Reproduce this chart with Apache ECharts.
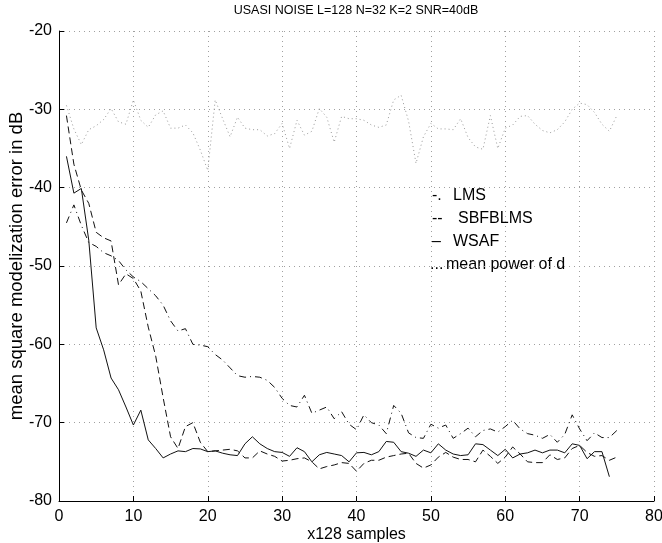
<!DOCTYPE html>
<html><head><meta charset="utf-8">
<script src="https://cdn.jsdelivr.net/npm/echarts@6/dist/echarts.min.js"></script>
<style>html,body{margin:0;padding:0;background:#fff}#c{width:662px;height:543px}</style>
</head><body><div id="c"></div>
<script>
const titleText = 'USASI NOISE L=128 N=32 K=2 SNR=40dB';
const xName = 'x128 samples';
const yName = 'mean square modelization error in dB';
const legendMarks = ['-.', '--', '–', '...'];
const legendNames = ['LMS', 'SBFBLMS', 'WSAF', 'mean power of d'];
const xTicks = [0, 80, 10];
const yTicks = [-80, -20, 10];

const lms = [-44.5,-42.2,-44.8,-47.0,-47.5,-48.3,-48.7,-49.3,-50.5,-51.4,-52.0,-52.9,-53.8,-55.0,-57.0,-58.3,-58.0,-60.0,-60.1,-60.3,-61.3,-62.0,-63.0,-64.0,-64.2,-64.1,-64.2,-64.6,-65.5,-66.9,-67.8,-68.0,-66.5,-68.8,-68.4,-68.0,-69.5,-68.6,-70.2,-70.9,-69.0,-70.0,-70.3,-71.4,-67.8,-68.8,-71.3,-71.9,-72.0,-70.2,-70.7,-70.3,-72.0,-71.4,-70.7,-71.8,-71.0,-70.8,-71.2,-70.5,-69.7,-70.8,-71.4,-71.6,-72.0,-71.5,-72.5,-71.5,-69.0,-70.8,-72.3,-71.3,-71.9,-71.9,-71.0];
const sbfblms = [-30.8,-37.0,-40.3,-42.0,-45.7,-46.4,-46.8,-52.4,-51.0,-51.6,-53.2,-57.8,-61.5,-66.8,-71.8,-73.3,-70.5,-70.0,-72.5,-73.7,-73.6,-73.5,-73.4,-73.6,-74.5,-74.5,-73.6,-74.0,-74.3,-74.9,-74.8,-74.6,-74.5,-75.0,-75.9,-75.6,-75.4,-75.1,-75.2,-76.2,-75.2,-74.8,-74.8,-74.4,-74.2,-74.0,-73.9,-75.2,-75.8,-75.4,-74.4,-73.8,-74.4,-74.7,-74.7,-75.0,-73.5,-74.3,-75.2,-74.4,-73.1,-74.0,-75.0,-75.1,-75.1,-74.1,-74.7,-74.5,-73.3,-72.9,-73.8,-74.3,-74.2,-74.8,-74.4];
const wsaf = [-36.0,-40.7,-40.1,-46.7,-57.9,-60.7,-64.3,-65.8,-68.0,-70.3,-68.4,-72.2,-73.3,-74.5,-74.0,-73.6,-73.7,-73.3,-73.35,-73.7,-73.6,-73.9,-74.1,-74.2,-72.7,-71.8,-72.7,-73.3,-73.7,-73.8,-74.3,-73.2,-73.7,-75.0,-74.1,-73.8,-74.0,-74.2,-75.0,-73.85,-73.8,-74.1,-73.7,-72.4,-72.5,-73.7,-73.9,-74.3,-73.5,-73.85,-72.7,-73.5,-74.0,-74.2,-74.1,-72.7,-72.8,-73.5,-74.2,-73.4,-74.5,-74.0,-73.85,-73.5,-73.85,-73.5,-73.5,-73.85,-72.7,-72.9,-74.6,-73.7,-73.7,-76.9];
const meanPower = [-29.5,-32.5,-34.5,-32.6,-32.1,-31.3,-29.9,-31.6,-31.9,-28.8,-31.4,-32.3,-30.7,-30.2,-32.4,-32.4,-32.0,-33.0,-35.2,-37.8,-28.8,-31.2,-33.5,-31.0,-32.4,-32.6,-32.6,-33.4,-33.1,-31.8,-35.0,-31.4,-33.3,-32.8,-29.9,-31.0,-34.2,-30.9,-31.2,-31.2,-31.4,-32.0,-32.3,-32.0,-28.8,-28.2,-31.5,-36.9,-33.5,-31.8,-32.5,-32.5,-32.6,-31.2,-33.6,-34.8,-35.1,-30.8,-35.0,-32.4,-32.0,-30.9,-30.8,-31.9,-32.7,-33.0,-32.6,-31.6,-30.0,-29.2,-29.4,-30.4,-31.9,-32.8,-30.8];

const toPts = arr => arr.map((v, i) => [i + 1, v]);
const FONT = 'Liberation Sans, Arial, Helvetica, sans-serif';

const chart = echarts.init(document.getElementById('c'), null, {renderer: 'canvas'});
const gridStyle = {show: true, lineStyle: {color: '#a0a0a0', width: 1, type: [1, 4]}};
const axisBase = {
  axisLine: {show: true, lineStyle: {color: '#000', width: 1}},
  axisTick: {show: true, inside: true, length: 5, lineStyle: {color: '#000'}},
  splitLine: gridStyle,
  nameMoveOverlap: false,
};
chart.setOption({
  animation: false,
  backgroundColor: '#fff',
  title: {text: titleText, left: 356, top: 4, padding: 0, textAlign: 'center',
    textStyle: {fontSize: 12.5, fontWeight: 'normal', color: '#000', fontFamily: FONT}},
  grid: {left: 59, right: 8, top: 31, bottom: 42, containLabel: false, outerBoundsMode: 'none'},
  xAxis: Object.assign({}, axisBase, {
    type: 'value', min: xTicks[0], max: xTicks[1], interval: xTicks[2],
    name: xName, nameLocation: 'middle', nameGap: 26,
    nameTextStyle: {color: '#000', fontFamily: FONT, fontSize: 16},
    axisLabel: {color: '#000', fontSize: 16, fontFamily: FONT, margin: 8}
  }),
  yAxis: Object.assign({}, axisBase, {
    type: 'value', min: yTicks[0], max: yTicks[1], interval: yTicks[2],
    name: yName, nameLocation: 'middle', nameGap: 33,
    nameTextStyle: {color: '#000', fontFamily: FONT, fontSize: 18.5},
    axisLabel: {color: '#000', fontSize: 16, fontFamily: FONT, margin: 7}
  }),
  series: [
    {name: legendNames[0], type: 'line', data: toPts(lms), showSymbol: false, symbol: 'none',
      lineStyle: {color: '#111', width: 1, type: [7, 4, 1, 4]}},
    {name: legendNames[1], type: 'line', data: toPts(sbfblms), showSymbol: false, symbol: 'none',
      lineStyle: {color: '#111', width: 1, type: [7, 4]}},
    {name: legendNames[2], type: 'line', data: toPts(wsaf), showSymbol: false, symbol: 'none',
      lineStyle: {color: '#111', width: 1, type: 'solid'}},
    {name: legendNames[3], type: 'line', data: toPts(meanPower), showSymbol: false, symbol: 'none',
      lineStyle: {color: '#999', width: 1, type: [1, 3]}}
  ],
  graphic: [
    {type: 'text', left: 432, top: 188, style: {text: legendMarks[0], fontSize: 16, fill: '#000', fontFamily: FONT}},
    {type: 'text', left: 453, top: 188, style: {text: legendNames[0], fontSize: 16, fill: '#000', fontFamily: FONT}},
    {type: 'text', left: 432, top: 211, style: {text: legendMarks[1], fontSize: 16, fill: '#000', fontFamily: FONT}},
    {type: 'text', left: 458, top: 211, style: {text: legendNames[1], fontSize: 16, fill: '#000', fontFamily: FONT}},
    {type: 'text', left: 432, top: 234, style: {text: legendMarks[2], fontSize: 16, fill: '#000', fontFamily: FONT}},
    {type: 'text', left: 453, top: 234, style: {text: legendNames[2], fontSize: 16, fill: '#000', fontFamily: FONT}},
    {type: 'text', left: 430, top: 257, style: {text: legendMarks[3], fontSize: 16, fill: '#000', fontFamily: FONT}},
    {type: 'text', left: 446, top: 257, style: {text: legendNames[3], fontSize: 16, fill: '#000', fontFamily: FONT}}
  ]
});
</script></body></html>
